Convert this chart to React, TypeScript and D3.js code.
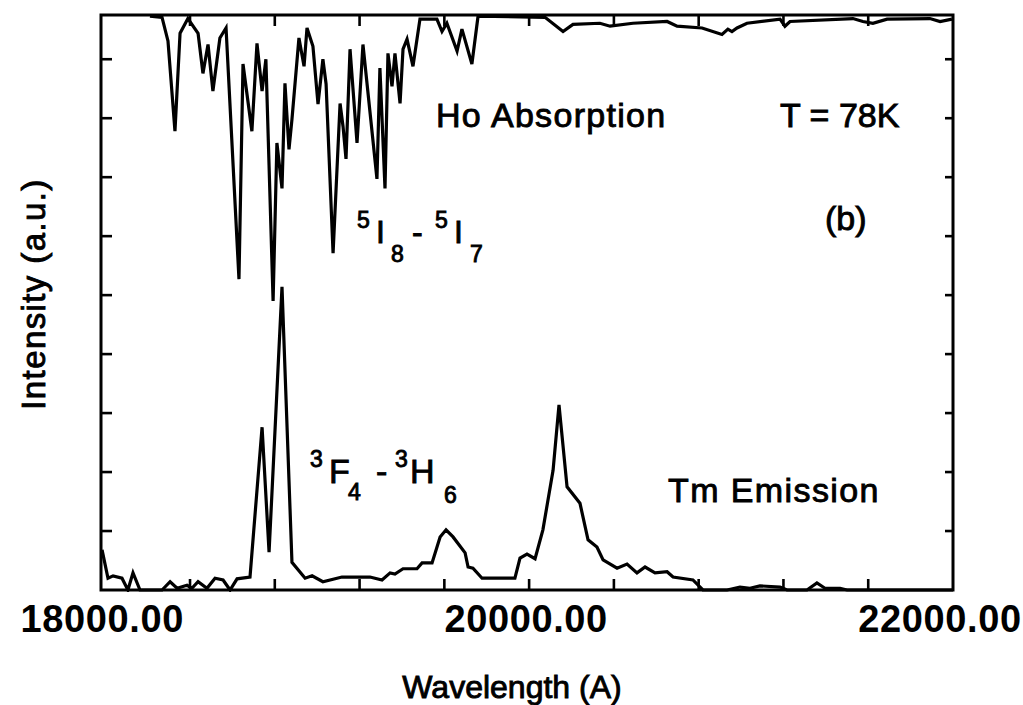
import React from "react";
import * as d3 from "d3";

// Ho absorption trace: wavelength (Å) and intensity (a.u.)
const absWave = [18211, 18268, 18296, 18329, 18353, 18390, 18438, 18461, 18485, 18508, 18541, 18570, 18631, 18650, 18692, 18716, 18740, 18758, 18792, 18810, 18834, 18848, 18867, 18881, 18914, 18938, 18952, 18980, 19004, 19027, 19042, 19075, 19108, 19122, 19136, 19155, 19188, 19216, 19282, 19296, 19320, 19334, 19353, 19367, 19391, 19405, 19424, 19452, 19485, 19565, 19589, 19612, 19660, 19683, 19730, 19759, 20075, 20160, 20207, 20334, 20382, 20490, 20651, 20698, 20816, 20910, 20938, 20957, 20981, 21028, 21184, 21207, 21231, 21528, 21575, 21622, 21689, 21891, 21939, 21995];
const absInt = [9.73, 9.71, 9.31, 7.78, 9.44, 9.69, 9.44, 8.76, 9.25, 8.46, 9.36, 9.53, 5.27, 8.92, 7.78, 9.27, 8.46, 9.0, 4.9, 7.58, 6.81, 8.59, 7.47, 7.98, 9.36, 8.88, 9.53, 9.22, 8.24, 9.0, 8.58, 5.71, 8.25, 7.86, 7.31, 9.17, 7.58, 9.25, 6.97, 8.85, 6.81, 9.1, 8.54, 9.1, 8.25, 9.17, 9.34, 8.88, 9.68, 9.68, 9.47, 9.61, 9.14, 9.51, 8.92, 9.73, 9.71, 9.47, 9.59, 9.61, 9.56, 9.61, 9.64, 9.56, 9.53, 9.42, 9.51, 9.47, 9.53, 9.61, 9.68, 9.56, 9.64, 9.69, 9.64, 9.61, 9.68, 9.69, 9.64, 9.68];

// Tm emission trace
const emWave = [17985, 18013, 18037, 18079, 18107, 18131, 18164, 18268, 18306, 18339, 18386, 18409, 18438, 18480, 18518, 18556, 18589, 18622, 18683, 18740, 18773, 18834, 18881, 18943, 18976, 19027, 19117, 19249, 19306, 19344, 19367, 19405, 19471, 19495, 19542, 19580, 19608, 19641, 19698, 19712, 19735, 19778, 19933, 19957, 19990, 20028, 20065, 20113, 20141, 20179, 20240, 20278, 20320, 20349, 20415, 20462, 20509, 20547, 20594, 20651, 20679, 20773, 20820, 20934, 20995, 21042, 21089, 21184, 21217, 21311, 21358, 21396, 21467, 21500, 22000];
const emInt = [0.68, 0.2, 0.24, 0.2, 0, 0.29, 0, 0, 0.14, 0.03, 0.08, 0.03, 0.14, 0.03, 0.2, 0.17, 0, 0.19, 0.22, 2.76, 0.64, 5.14, 0.47, 0.2, 0.24, 0.14, 0.22, 0.22, 0.17, 0.29, 0.27, 0.36, 0.36, 0.46, 0.46, 0.9, 1.02, 0.9, 0.63, 0.39, 0.37, 0.2, 0.2, 0.54, 0.61, 0.53, 1.02, 2.03, 3.14, 1.75, 1.47, 0.85, 0.73, 0.51, 0.37, 0.44, 0.29, 0.39, 0.29, 0.31, 0.22, 0.17, 0, 0, 0.05, 0.03, 0.07, 0.05, 0, 0, 0.12, 0.03, 0.03, 0, 0];

const xTickValues = [18000, 18400, 18800, 19200, 19600, 20000, 20400, 20800, 21200, 21600, 22000];
const xTickLabels = [18000, 20000, 22000];
const yTickValues = [1, 2, 3, 4, 5, 6, 7, 8, 9];

const W = 1023;
const H = 705;
const left = 101, right = 953, top = 15, bottom = 590;
const FONT = "'Liberation Sans', Arial, Helvetica, sans-serif";

export default function App() {
  const x = d3.scaleLinear().domain([17980, 22000]).range([left, right]);
  const y = d3.scaleLinear().domain([0, 9.75]).range([bottom, top]);

  const absData = absWave.map((w, i) => [w, absInt[i]] as [number, number]);
  const emData = emWave.map((w, i) => [w, emInt[i]] as [number, number]);
  const line = d3
    .line<[number, number]>()
    .x((d) => x(d[0]))
    .y((d) => y(d[1]));

  const tickLen = 11;
  const textStyle = { fontFamily: FONT, fill: "#000", stroke: "#000", strokeWidth: 0.9 };

  return (
    <svg
      width={W}
      height={H}
      style={{ position: "absolute", left: 0, top: 0, background: "#fff" }}
    >
      <rect x={0} y={0} width={W} height={H} fill="#fff" />
      <defs>
        <clipPath id="plotclip">
          <rect x={left} y={top - 2} width={right - left} height={bottom - top + 4} />
        </clipPath>
      </defs>

      {/* data */}
      <g clipPath="url(#plotclip)" fill="none" stroke="#000" strokeWidth={3.2} strokeLinejoin="miter">
        <path d={line(absData) || ""} />
        <path d={line(emData) || ""} />
      </g>

      {/* frame */}
      <rect
        x={left}
        y={top}
        width={right - left}
        height={bottom - top}
        fill="none"
        stroke="#000"
        strokeWidth={3}
      />

      {/* ticks (inward on all four sides) */}
      <g stroke="#000" strokeWidth={2.6}>
        {xTickValues.slice(1, -1).map((v) => (
          <g key={"xt" + v}>
            <line x1={x(v)} x2={x(v)} y1={bottom} y2={bottom - tickLen} />
            <line x1={x(v)} x2={x(v)} y1={top} y2={top + tickLen} />
          </g>
        ))}
        {yTickValues.map((v) => (
          <g key={"yt" + v}>
            <line x1={left} x2={left + tickLen} y1={y(v)} y2={y(v)} />
            <line x1={right} x2={right - tickLen + 3} y1={y(v)} y2={y(v)} />
          </g>
        ))}
      </g>

      {/* x tick labels */}
      {xTickLabels.map((v) => {
        const cx = Math.min(x(v) - 3, W - 83);
        return (
          <text
            key={"xl" + v}
            x={cx}
            y={632}
            textAnchor="middle"
            fontSize={38}
            fontWeight="bold"
            letterSpacing={0.6}
            style={{ fontFamily: FONT }}
          >
            {v.toFixed(2)}
          </text>
        );
      })}

      {/* axis titles */}
      <text
        x={512}
        y={698}
        textAnchor="middle"
        fontSize={32}
        {...textStyle}
      >
        Wavelength (A)
      </text>
      <text
        transform="translate(45,294) rotate(-90)"
        textAnchor="middle"
        fontSize={33}
        letterSpacing={1.4}
        {...textStyle}
      >
        Intensity (a.u.)
      </text>

      {/* annotations */}
      <text x={436} y={127} fontSize={34} letterSpacing={1.3} {...textStyle}>
        Ho Absorption
      </text>
      <text x={780} y={127} fontSize={34} {...textStyle}>
        T = 78K
      </text>
      <text x={825} y={230} fontSize={34} {...textStyle}>
        (b)
      </text>

      {/* 5I8 - 5I7 */}
      <g {...textStyle}>
        <text x={357} y={228} fontSize={23}>5</text>
        <text x={376} y={243} fontSize={32}>I</text>
        <text x={391} y={262} fontSize={23}>8</text>
        <text x={412} y={243} fontSize={32}>-</text>
        <text x={435} y={228} fontSize={23}>5</text>
        <text x={454} y={243} fontSize={32}>I</text>
        <text x={470} y={262} fontSize={23}>7</text>
      </g>

      {/* 3F4 - 3H6 */}
      <g {...textStyle}>
        <text x={310} y={467} fontSize={23}>3</text>
        <text x={329} y={483} fontSize={34}>F</text>
        <text x={348} y={500} fontSize={23}>4</text>
        <text x={376} y={483} fontSize={34}>-</text>
        <text x={395} y={467} fontSize={23}>3</text>
        <text x={410} y={483} fontSize={34}>H</text>
        <text x={444} y={503} fontSize={23}>6</text>
      </g>

      <text x={668} y={502} fontSize={34} letterSpacing={1.4} {...textStyle}>
        Tm Emission
      </text>
    </svg>
  );
}
